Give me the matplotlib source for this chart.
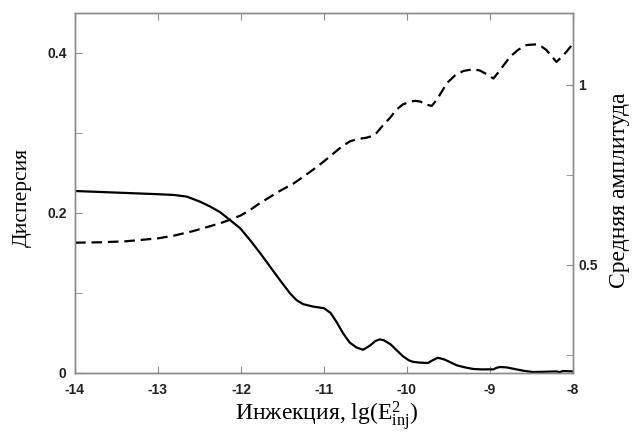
import matplotlib
matplotlib.use("Agg")
import matplotlib.pyplot as plt

# ---- data ----
x_disp = [-14, -13.5, -13, -12.8, -12.65, -12.49, -12.37, -12.25, -12.13, -12.01,
          -11.89, -11.77, -11.65, -11.53, -11.41, -11.33, -11.25, -11.13, -11.0,
          -10.92, -10.85, -10.77, -10.69, -10.61, -10.53, -10.45, -10.38, -10.33,
          -10.28, -10.2, -10.13, -10.05, -9.98, -9.93, -9.85, -9.75, -9.69, -9.63,
          -9.55, -9.47, -9.40, -9.3, -9.2, -9.1, -9.0, -8.96, -8.92, -8.88, -8.8,
          -8.68, -8.58, -8.48, -8.35, -8.2, -8.16, -8.12, -8.0]
dispersion = [0.2275, 0.2255, 0.2235, 0.2225, 0.2204, 0.214, 0.208, 0.2009, 0.191, 0.181,
              0.166, 0.150, 0.133, 0.116, 0.0996, 0.091, 0.086, 0.083, 0.081,
              0.075, 0.064, 0.0496, 0.038, 0.032, 0.029, 0.034, 0.040, 0.042,
              0.041, 0.036, 0.029, 0.021, 0.016, 0.014, 0.013, 0.0125, 0.016, 0.019,
              0.017, 0.013, 0.0096, 0.007, 0.005, 0.0045, 0.0046, 0.0045, 0.0065, 0.0075, 0.007,
              0.0045, 0.0025, 0.0012, 0.0015, 0.002, 0.001, 0.0025, 0.002]

x_amp = [-14, -13.7, -13.38, -13.0, -12.8, -12.58, -12.37, -12.25, -12.13, -12.0, -11.89,
         -11.77, -11.65, -11.53, -11.37, -11.25, -11.13, -11.0, -10.88, -10.78, -10.69,
         -10.6, -10.5, -10.42, -10.37, -10.3, -10.2, -10.13, -10.05, -9.96, -9.9, -9.84,
         -9.76, -9.70, -9.63, -9.52, -9.42, -9.32, -9.2, -9.12, -9.04, -8.96, -8.9,
         -8.76, -8.66, -8.56, -8.44, -8.38, -8.32, -8.25, -8.2, -8.14, -8.08, -8.0]
amplitude = [0.562, 0.563, 0.566, 0.574, 0.582, 0.594, 0.608, 0.616, 0.626, 0.638, 0.653,
             0.672, 0.689, 0.706, 0.726, 0.745, 0.765, 0.788, 0.811, 0.830, 0.843,
             0.850, 0.853, 0.858, 0.866, 0.885, 0.910, 0.931, 0.946, 0.954, 0.956, 0.954,
             0.945, 0.942, 0.963, 1.005, 1.027, 1.039, 1.044, 1.040, 1.030, 1.018, 1.035,
             1.078, 1.098, 1.111, 1.113, 1.107, 1.097, 1.078, 1.064, 1.077, 1.092, 1.115]

x_ticks = [-14, -13, -12, -11, -10, -9, -8]
left_ticks = [0, 0.2, 0.4]
left_minor = [0.1, 0.3]
right_ticks = [0.5, 1]
right_minor = [0.25, 0.75]

xlabel = "Инжекция, lg(E$^{2}_{\\mathrm{inj}}$)"
ylabel_left = "Дисперсия"
ylabel_right = "Средняя амплитуда"

plt.rcParams['mathtext.fontset'] = 'custom'
plt.rcParams['mathtext.rm'] = 'Liberation Serif'
plt.rcParams['mathtext.it'] = 'Liberation Serif:italic'

fig = plt.figure(figsize=(6.34, 4.34), dpi=100)
ax = fig.add_axes([75/634, 1-373/434, (573-75)/634, (373-13)/434])
ax2 = ax.twinx()

ax.plot(x_disp, dispersion, color='black', lw=1.6, solid_joinstyle='round')
ax2.plot(x_amp, amplitude, color='black', lw=1.6, dashes=(4.8, 2.6))

ax.set_xlim(-14, -8)
ax.set_ylim(0, 0.45)
ax2.set_ylim(0.2, 1.2)

spine_col = '#8a8a8a'
for a in (ax, ax2):
    for s in a.spines.values():
        s.set_color(spine_col)
        s.set_linewidth(1.0)

tick_font = dict(family='Liberation Sans', weight='bold', size=10)
ax.set_xticks(x_ticks)
ax.set_xticklabels([str(t) for t in x_ticks], **tick_font)
ax.set_yticks(left_ticks)
ax.set_yticklabels(['0', '0.2', '0.4'], **tick_font)
ax.set_yticks(left_minor, minor=True)
ax2.set_yticks(right_ticks)
ax2.set_yticklabels(['0.5', '1'], **tick_font)
ax2.set_yticks(right_minor, minor=True)

ax.tick_params(axis='x', which='both', direction='in', top=True, length=5,
               color=spine_col, pad=7, labelcolor='#222222')
ax.tick_params(axis='y', which='both', direction='in', length=5,
               color=spine_col, pad=6, labelcolor='#222222')
ax2.tick_params(axis='y', which='both', direction='in', length=5,
                color=spine_col, pad=4, labelcolor='#222222')

fig.text(22/634, 1-197/434, ylabel_left, rotation=90, ha='center', va='center',
         family='Liberation Serif', size=15.5)
fig.text(619/634, 1-190/434, ylabel_right, rotation=90, ha='center', va='center',
         family='Liberation Serif', size=17)
fig.text(327/634, 1-416/434, xlabel, ha='center', va='center',
         family='Liberation Serif', size=17)

fig.savefig('out.png', dpi=100)
